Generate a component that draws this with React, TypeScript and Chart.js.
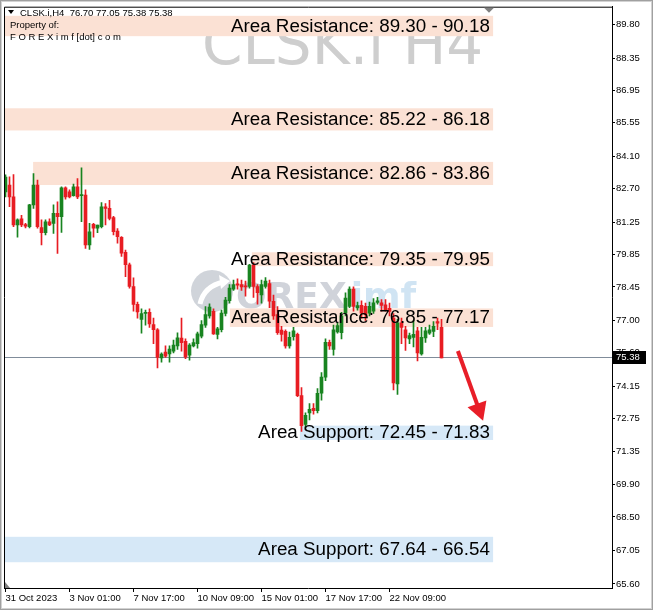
import React, { useEffect, useRef } from "react";
import { Chart, registerables } from "chart.js";

Chart.register(...registerables);

// ---- data (H4 candles, CLSK.i) ----
const opens = [
  82.56, 82.86, 82.35, 81.13, 81.4, 81.15, 81.06, 82.0, 82.86, 81.02,
  80.8, 81.27, 81.2, 81.63, 81.49, 82.74, 82.56, 82.4, 82.78, 82.4,
  82.42, 80.27, 81.16, 80.99, 81.06, 81.92, 81.85, 81.45, 80.87, 80.6,
  79.95, 79.41, 78.47, 77.7, 77.05, 77.3, 77.35, 76.82, 76.6, 75.38,
  75.63, 75.55, 75.67, 75.9, 76.24, 76.1, 75.5, 75.9, 76.0, 76.32,
  76.8, 77.2, 77.4, 76.4, 76.6, 77.3, 77.86, 78.35, 78.58, 78.55,
  78.5, 78.47, 79.4, 78.47, 78.1, 78.47, 78.6, 77.83, 77.25, 76.58,
  76.53, 75.9, 76.3, 76.4, 73.75, 72.5, 73.0, 73.2, 73.1, 73.85,
  74.55, 76.05, 75.75, 76.5, 76.47, 77.32, 77.61, 78.36, 77.54, 77.65,
  77.61, 77.32, 77.4, 77.78, 77.76, 77.68, 77.53, 77.1, 74.25, 76.9,
  76.6, 76.2, 76.27, 76.55, 75.55, 76.25, 76.45, 76.53, 76.95, 76.7,
];
const highs = [
  83.3, 83.21, 83.31, 81.4, 81.55, 81.2, 82.02, 83.35, 83.07, 81.35,
  81.35, 81.4, 82.0, 82.13, 82.78, 82.78, 82.65, 82.9, 83.14, 83.6,
  82.65, 81.2, 81.2, 81.13, 82.1, 82.06, 82.2, 81.5, 80.98, 80.63,
  80.05, 79.48, 78.84, 77.8, 77.5, 77.45, 77.5, 77.1, 76.65, 75.6,
  75.9, 75.9, 76.15, 76.47, 77.1, 76.2, 76.0, 76.2, 76.5, 77.0,
  77.6, 77.72, 77.5, 76.7, 77.45, 78.0, 78.55, 78.75, 78.8, 78.75,
  78.7, 79.43, 79.5, 78.55, 78.75, 78.85, 78.75, 78.1, 77.6, 76.75,
  76.6, 76.5, 76.7, 76.45, 74.1, 73.0, 73.4, 73.4, 74.05, 74.75,
  76.2, 76.15, 76.8, 76.9, 77.35, 78.2, 78.45, 78.45, 77.8, 77.85,
  77.75, 77.8, 77.95, 78.0, 77.9, 77.9, 77.75, 77.3, 77.05, 77.1,
  76.75, 76.45, 77.0, 76.7, 76.7, 76.7, 76.8, 76.95, 77.1, 77.05,
];
const lows = [
  82.35, 81.92, 81.06, 80.6, 81.06, 81.0, 81.0, 81.85, 80.99, 80.27,
  80.7, 81.1, 80.77, 79.9, 80.81, 82.25, 82.3, 82.38, 82.27, 81.27,
  80.12, 80.07, 80.6, 80.8, 81.0, 81.13, 81.35, 80.7, 80.34, 79.77,
  78.9, 78.4, 77.4, 77.1, 76.45, 76.8, 76.7, 76.0, 74.95, 75.2,
  75.4, 75.2, 75.6, 75.75, 75.67, 75.35, 75.28, 75.85, 75.8, 76.25,
  76.7, 77.1, 76.4, 76.2, 76.5, 77.2, 77.75, 78.3, 78.35, 78.3,
  78.05, 78.4, 78.0, 77.7, 77.75, 78.4, 77.55, 77.05, 76.4, 76.1,
  75.8, 75.8, 76.15, 73.7, 72.2, 72.35, 72.7, 72.95, 73.0, 73.55,
  74.4, 75.75, 75.5, 76.45, 76.2, 77.2, 77.55, 77.4, 77.45, 77.1,
  77.0, 77.2, 77.3, 77.7, 77.4, 77.4, 77.2, 74.0, 73.8, 76.0,
  75.7, 76.0, 75.85, 75.25, 75.5, 76.05, 76.4, 76.3, 76.6, 75.38,
];
const closes = [
  83.2, 82.35, 81.13, 81.35, 81.13, 81.08, 82.0, 82.86, 81.06, 80.8,
  81.27, 81.13, 81.63, 81.49, 82.74, 82.35, 82.35, 82.78, 82.35, 82.45,
  80.27, 80.84, 80.99, 81.13, 81.92, 81.85, 81.42, 80.84, 80.63, 79.91,
  79.41, 78.47, 77.69, 77.37, 77.3, 77.35, 76.85, 76.6, 75.4, 75.55,
  75.46, 75.76, 75.93, 76.25, 76.04, 75.42, 75.93, 76.04, 76.42, 76.82,
  77.25, 77.58, 76.42, 76.64, 77.32, 77.88, 78.4, 78.55, 78.53, 78.45,
  78.45, 79.4, 78.47, 78.2, 78.55, 78.7, 77.83, 77.2, 76.47, 76.4,
  75.9, 76.27, 76.55, 73.75, 72.45, 72.9, 73.15, 73.1, 73.85, 74.55,
  76.05, 75.9, 76.6, 76.78, 77.2, 77.97, 78.36, 77.61, 77.64, 77.32,
  77.25, 77.61, 77.76, 77.85, 77.65, 77.47, 77.39, 74.3, 76.9, 76.7,
  76.25, 76.35, 76.4, 75.6, 76.27, 76.55, 76.6, 76.75, 76.88, 75.38,
];

const symbol = "CLSK.i";
const timeframe = "H4";
const lastPrice = 75.38;

const xTickLabels = [
  "31 Oct 2023",
  "3 Nov 01:00",
  "7 Nov 17:00",
  "10 Nov 09:00",
  "15 Nov 01:00",
  "17 Nov 17:00",
  "22 Nov 09:00",
];
const xTickEvery = 16;

const yTickValues = [
  89.8, 88.35, 86.95, 85.55, 84.1, 82.7, 81.25, 79.85, 78.45, 77.0, 75.6,
  74.15, 72.75, 71.35, 69.9, 68.5, 67.05, 65.6,
];

// zones (label values)
const zoneKind = ["Resistance", "Resistance", "Resistance", "Resistance", "Resistance", "Support", "Support"];
const zoneFirst = [89.3, 85.22, 82.86, 79.35, 76.85, 72.45, 67.64];
const zoneSecond = [90.18, 86.18, 83.86, 79.95, 77.17, 71.83, 66.54];
// zones (drawn rectangles, price + bar index span)
const bandLow = [89.3, 85.22, 82.86, 79.35, 76.72, 71.83, 66.54];
const bandHigh = [90.18, 86.18, 83.86, 79.95, 77.52, 72.45, 67.64];
const bandStart = [-0.6, -0.6, 6.9, 61.6, 56.1, 73.6, -0.6];
const bandEnd = [121.9, 121.9, 121.9, 121.9, 121.9, 121.9, 121.9];
const labelEnd = 121.1;

// forecast arrow (bar index, price)
const arrowFrom = { i: 113.1, p: 75.68 };
const arrowTo = { i: 119.4, p: 72.66 };

const GREEN = "rgb(24,132,32)";
const RED = "rgb(232,28,34)";
const RES_FILL = "rgb(251,225,212)";
const SUP_FILL = "rgb(214,232,247)";

const overlay = {
  id: "overlay",
  beforeDraw(chart: any) {
    const { ctx, width, height } = chart;
    ctx.save();
    ctx.fillStyle = "#ffffff";
    ctx.fillRect(0, 0, width, height);
    ctx.restore();
  },
  beforeDatasetsDraw(chart: any) {
    const { ctx, chartArea: a, scales } = chart;
    const x = scales.x;
    const y = scales.y;
    ctx.save();
    ctx.beginPath();
    ctx.rect(a.left, a.top, a.right - a.left, a.bottom - a.top);
    ctx.clip();

    // symbol watermark
    ctx.fillStyle = "rgb(206,206,206)";
    ctx.font = '58px "DejaVu Sans"';
    ctx.textBaseline = "alphabetic";
    ctx.textAlign = "left";
    ctx.fillText(`${symbol} ${timeframe}`, 202, 64);

    // FOREXimf watermark
    ctx.fillStyle = "rgba(200,204,212,0.85)";
    ctx.beginPath();
    ctx.arc(212, 291, 21, 0, Math.PI * 2);
    ctx.fill();
    ctx.strokeStyle = "#ffffff";
    ctx.lineWidth = 5;
    ctx.beginPath();
    ctx.moveTo(200, 304);
    ctx.quadraticCurveTo(204, 286, 224, 282);
    ctx.stroke();
    ctx.fillStyle = "#ffffff";
    ctx.beginPath();
    ctx.moveTo(230, 281);
    ctx.lineTo(219, 275);
    ctx.lineTo(221, 289);
    ctx.closePath();
    ctx.fill();
    ctx.font = 'bold 36px "DejaVu Sans"';
    ctx.fillStyle = "rgb(208,211,218)";
    ctx.fillText("OREX", 236, 308);
    const w = ctx.measureText("OREX").width;
    ctx.fillStyle = "rgb(208,228,243)";
    ctx.fillText("imf", 236 + w + 4, 308);

    // zone rectangles
    for (let k = 0; k < bandLow.length; k++) {
      const x0 = x.getPixelForValue(bandStart[k]);
      const x1 = x.getPixelForValue(bandEnd[k]);
      const y0 = y.getPixelForValue(bandHigh[k]);
      const y1 = y.getPixelForValue(bandLow[k]);
      ctx.fillStyle = zoneKind[k] === "Support" ? SUP_FILL : RES_FILL;
      ctx.fillRect(x0, y0, x1 - x0, y1 - y0);
    }

    // current price line
    const py = Math.round(y.getPixelForValue(lastPrice)) - 0.5;
    ctx.strokeStyle = "rgb(128,140,154)";
    ctx.lineWidth = 1;
    ctx.beginPath();
    ctx.moveTo(a.left, py);
    ctx.lineTo(a.right, py);
    ctx.stroke();
    ctx.restore();
  },
  afterDatasetsDraw(chart: any) {
    const { ctx, chartArea: a, scales } = chart;
    const x = scales.x;
    const y = scales.y;
    ctx.save();
    ctx.beginPath();
    ctx.rect(a.left, a.top, a.right - a.left, a.bottom - a.top);
    ctx.clip();

    // zone labels
    ctx.fillStyle = "#000";
    ctx.font = '18.8px "Liberation Sans"';
    ctx.textAlign = "right";
    ctx.textBaseline = "middle";
    for (let k = 0; k < zoneFirst.length; k++) {
      const txt = `Area ${zoneKind[k]}: ${zoneFirst[k].toFixed(2)} - ${zoneSecond[k].toFixed(2)}`;
      const ly = y.getPixelForValue((bandLow[k] + bandHigh[k]) / 2) + 0.5;
      ctx.fillText(txt, x.getPixelForValue(labelEnd), ly);
    }

    // arrow
    const ax0 = x.getPixelForValue(arrowFrom.i);
    const ay0 = y.getPixelForValue(arrowFrom.p);
    const ax1 = x.getPixelForValue(arrowTo.i);
    const ay1 = y.getPixelForValue(arrowTo.p);
    const len = Math.hypot(ax1 - ax0, ay1 - ay0);
    const ux = (ax1 - ax0) / len;
    const uy = (ay1 - ay0) / len;
    const headLen = 18;
    const headHalf = 10;
    const bx = ax1 - ux * headLen;
    const by = ay1 - uy * headLen;
    ctx.strokeStyle = "rgb(232,30,40)";
    ctx.fillStyle = "rgb(232,30,40)";
    ctx.lineWidth = 4;
    ctx.beginPath();
    ctx.moveTo(ax0, ay0);
    ctx.lineTo(bx + ux * 2, by + uy * 2);
    ctx.stroke();
    ctx.beginPath();
    ctx.moveTo(ax1, ay1);
    ctx.lineTo(bx - uy * headHalf, by + ux * headHalf);
    ctx.lineTo(bx + uy * headHalf, by - ux * headHalf);
    ctx.closePath();
    ctx.fill();

    // header texts
    const n = opens.length - 1;
    ctx.fillStyle = "#000";
    ctx.beginPath();
    ctx.moveTo(8, 10);
    ctx.lineTo(14, 10);
    ctx.lineTo(11, 14);
    ctx.closePath();
    ctx.fill();
    ctx.textAlign = "left";
    ctx.textBaseline = "alphabetic";
    ctx.font = '9.5px "Liberation Sans"';
    ctx.fillText(
      `${symbol},${timeframe}  ${opens[n].toFixed(2)} ${highs[n].toFixed(2)} ${lows[n].toFixed(2)} ${closes[n].toFixed(2)}`,
      20,
      16
    );
    ctx.fillText("Property of:", 10, 28);
    ctx.fillText("F O R E X i m f [dot] c o m", 10, 40);
    ctx.restore();
  },
  afterDraw(chart: any) {
    const { ctx, chartArea: a, scales, width, height } = chart;
    const y = scales.y;
    ctx.save();
    // frame top / left
    ctx.strokeStyle = "#000";
    ctx.lineWidth = 1;
    ctx.beginPath();
    ctx.moveTo(a.left + 0.5, a.bottom);
    ctx.lineTo(a.left + 0.5, a.top + 0.5);
    ctx.lineTo(a.right + 0.5, a.top + 0.5);
    ctx.stroke();

    // shift marker and bottom-left marker
    ctx.fillStyle = "rgb(128,128,128)";
    ctx.beginPath();
    ctx.moveTo(484, a.top + 1);
    ctx.lineTo(494, a.top + 1);
    ctx.lineTo(489, a.top + 6);
    ctx.closePath();
    ctx.fill();
    ctx.beginPath();
    ctx.moveTo(a.left + 1, a.bottom - 6);
    ctx.lineTo(a.left + 1, a.bottom);
    ctx.lineTo(a.left + 6, a.bottom);
    ctx.closePath();
    ctx.fill();

    // last price box
    const py = Math.round(y.getPixelForValue(lastPrice)) - 1;
    ctx.fillStyle = "#000";
    ctx.fillRect(a.right + 1, py - 6, 33, 13);
    ctx.fillStyle = "#fff";
    ctx.font = '9.5px "Liberation Sans"';
    ctx.textAlign = "left";
    ctx.textBaseline = "middle";
    ctx.fillText(lastPrice.toFixed(2), a.right + 4, py + 0.5);

    // window border
    ctx.strokeStyle = "rgb(160,160,160)";
    ctx.strokeRect(0.5, 0.5, width - 1, height - 1);
    ctx.strokeStyle = "rgb(210,210,210)";
    ctx.strokeRect(1.5, 1.5, width - 3, height - 3);
    ctx.restore();
  },
};

export default function App() {
  const ref = useRef<HTMLCanvasElement | null>(null);

  useEffect(() => {
    if (!ref.current) return;
    const idx = opens.map((_, i) => i);
    const colors = idx.map((i) => (closes[i] >= opens[i] ? GREEN : RED));
    const chart = new Chart(ref.current, {
      type: "bar",
      data: {
        datasets: [
          {
            label: "body",
            data: idx.map((i) => ({
              x: i,
              y: [Math.min(opens[i], closes[i]), Math.max(opens[i], closes[i])],
            })) as any,
            backgroundColor: colors,
            borderWidth: 0,
            barThickness: 3,
            minBarLength: 1,
            grouped: false,
            order: 0,
          } as any,
          {
            label: "wick",
            data: idx.map((i) => ({ x: i, y: [lows[i], highs[i]] })) as any,
            backgroundColor: colors,
            borderWidth: 0,
            barThickness: 1,
            grouped: false,
            order: 1,
          } as any,
        ],
      },
      options: {
        responsive: false,
        animation: false,
        events: [],
        layout: { padding: { left: 4, top: 4, right: 0, bottom: 0 } },
        plugins: { legend: { display: false }, tooltip: { enabled: false } },
        scales: {
          x: {
            type: "linear",
            position: "bottom",
            offset: false,
            min: -0.375,
            max: 151.625,
            afterBuildTicks: (s: any) => {
              s.ticks = xTickLabels.map((_, k) => ({ value: k * xTickEvery }));
            },
            afterFit: (s: any) => {
              s.height = 22;
            },
            grid: { offset: false, drawOnChartArea: false, drawTicks: true, tickLength: 4, color: "#000" },
            border: { display: true, color: "#000", width: 1 },
            ticks: {
              align: "start",
              autoSkip: false,
              maxRotation: 0,
              padding: 1,
              color: "#000",
              font: { family: "Liberation Sans", size: 9.5 },
              callback: (v: any) => xTickLabels[Math.round(Number(v) / xTickEvery)] ?? "",
            },
          } as any,
          y: {
            type: "linear",
            position: "right",
            min: 65.425,
            max: 90.575,
            afterBuildTicks: (s: any) => {
              s.ticks = yTickValues.map((v) => ({ value: v }));
            },
            afterFit: (s: any) => {
              s.width = 41;
            },
            grid: { drawOnChartArea: false, drawTicks: true, tickLength: 3, color: "#000" },
            border: { display: true, color: "#000", width: 1 },
            ticks: {
              padding: 1,
              color: "#000",
              font: { family: "Liberation Sans", size: 9.5 },
              callback: (v: any) => Number(v).toFixed(2),
            },
          } as any,
        },
      },
      plugins: [overlay],
    });
    return () => chart.destroy();
  }, []);

  return (
    <div style={{ position: "fixed", left: 0, top: 0, width: 653, height: 610, background: "#fff" }}>
      <canvas ref={ref} width={653} height={610} style={{ display: "block" }} />
    </div>
  );
}
